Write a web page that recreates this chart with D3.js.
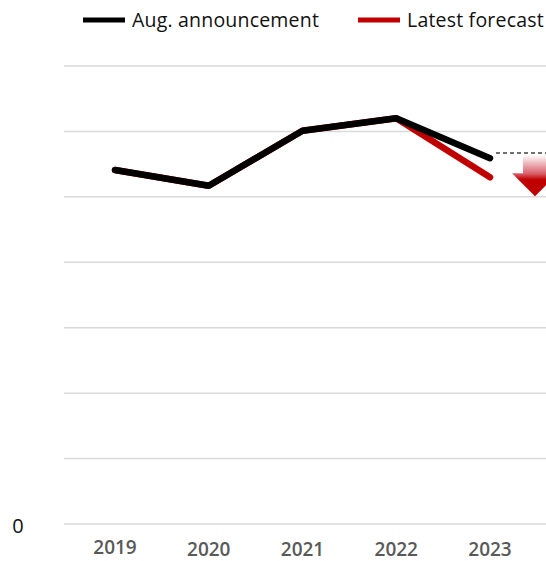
<!DOCTYPE html>
<html>
<head>
<meta charset="utf-8">
<script src="https://cdn.jsdelivr.net/npm/d3@7"></script>
<style>
  html, body { margin: 0; padding: 0; background: #fff; }
  svg { display: block; font-family: "Open Sans", "Noto Sans", sans-serif; }
</style>
</head>
<body>
<svg id="chart" width="546" height="561"></svg>
<script>
// Fiscal years on the horizontal axis
const years = ["2019", "2020", "2021", "2022", "2023"];
// August announcement figures
const augValues = [5.41, 5.17, 6.01, 6.20, 5.59];
// Latest forecast figures (same history, revised final year)
const latestValues = [5.41, 5.17, 6.01, 6.20, 5.30];
// Gridline values and the single labelled tick
const gridValues = [0, 1, 2, 3, 4, 5, 6, 7];
const yTickLabels = ["0"];
// Downward-revision marker: from level to level
const arrowFrom = 5.67;
const arrowTo = 5.01;

const svg = d3.select("#chart");

const x = d3.scalePoint().domain(years).range([115, 490]);
const y = d3.scaleLinear().domain([0, 7]).range([524, 66]);

// gridlines
svg.append("g")
  .selectAll("line")
  .data(gridValues)
  .join("line")
  .attr("x1", 64).attr("x2", 546)
  .attr("y1", d => y(d)).attr("y2", d => y(d))
  .attr("stroke", "#d9d9d9")
  .attr("stroke-width", 1.5);

// y tick label
svg.append("g")
  .selectAll("text")
  .data(yTickLabels)
  .join("text")
  .attr("x", 18)
  .attr("y", d => y(+d) + 9)
  .attr("text-anchor", "middle")
  .attr("font-size", 20)
  .attr("fill", "#111")
  .text(d => d);

// x axis labels
svg.append("g")
  .selectAll("text")
  .data(years)
  .join("text")
  .attr("x", d => x(d))
  .attr("y", (d, i) => i === 0 ? 554 : 556)
  .attr("text-anchor", "middle")
  .attr("font-size", 19)
  .attr("font-weight", 600)
  .attr("fill", "#595959")
  .text(d => d);

const line = d3.line()
  .x((d, i) => x(years[i]))
  .y(d => y(d));

// latest forecast underneath
svg.append("path")
  .datum(latestValues)
  .attr("d", line)
  .attr("fill", "none")
  .attr("stroke", "#c00000")
  .attr("stroke-width", 6.5)
  .attr("stroke-linecap", "round")
  .attr("stroke-linejoin", "round");

// August announcement on top
svg.append("path")
  .datum(augValues)
  .attr("d", line)
  .attr("fill", "none")
  .attr("stroke", "#000")
  .attr("stroke-width", 6.5)
  .attr("stroke-linecap", "round")
  .attr("stroke-linejoin", "round");

// revision marker: dashed reference and gradient down-arrow
const defs = svg.append("defs");
const grad = defs.append("linearGradient")
  .attr("id", "arrowGrad")
  .attr("x1", 0).attr("y1", 0).attr("x2", 0).attr("y2", 1);
grad.append("stop").attr("offset", "0%").attr("stop-color", "#fff");
grad.append("stop").attr("offset", "45%").attr("stop-color", "#d8606a");
grad.append("stop").attr("offset", "60%").attr("stop-color", "#c00000");
grad.append("stop").attr("offset", "100%").attr("stop-color", "#c00000");

const lastX = x(years[years.length - 1]);
const yTop = y(arrowFrom);
const yTip = y(arrowTo);
const cx = 535;
const headTop = yTip - 23;

svg.append("line")
  .attr("x1", lastX + 6).attr("x2", 546)
  .attr("y1", yTop).attr("y2", yTop)
  .attr("stroke", "#444")
  .attr("stroke-width", 1.3)
  .attr("stroke-dasharray", "4,3");

svg.append("path")
  .attr("d", `M${cx - 12},${yTop + 2} L${cx + 12},${yTop + 2} L${cx + 12},${headTop} L${cx + 23},${headTop} L${cx},${yTip} L${cx - 23},${headTop} L${cx - 12},${headTop} Z`)
  .attr("fill", "url(#arrowGrad)");

// legend
const legend = [
  { label: "Aug. announcement", color: "#000", x: 83 },
  { label: "Latest forecast", color: "#c00000", x: 358 }
];
const lg = svg.append("g")
  .selectAll("g")
  .data(legend)
  .join("g")
  .attr("transform", d => `translate(${d.x},20)`);
lg.append("line")
  .attr("x1", 0).attr("x2", 42)
  .attr("stroke", d => d.color)
  .attr("stroke-width", 5);
lg.append("text")
  .attr("x", 49).attr("y", 7)
  .attr("font-size", 19.5)
  .attr("letter-spacing", 0.2)
  .attr("fill", "#111")
  .text(d => d.label);
</script>
</body>
</html>
